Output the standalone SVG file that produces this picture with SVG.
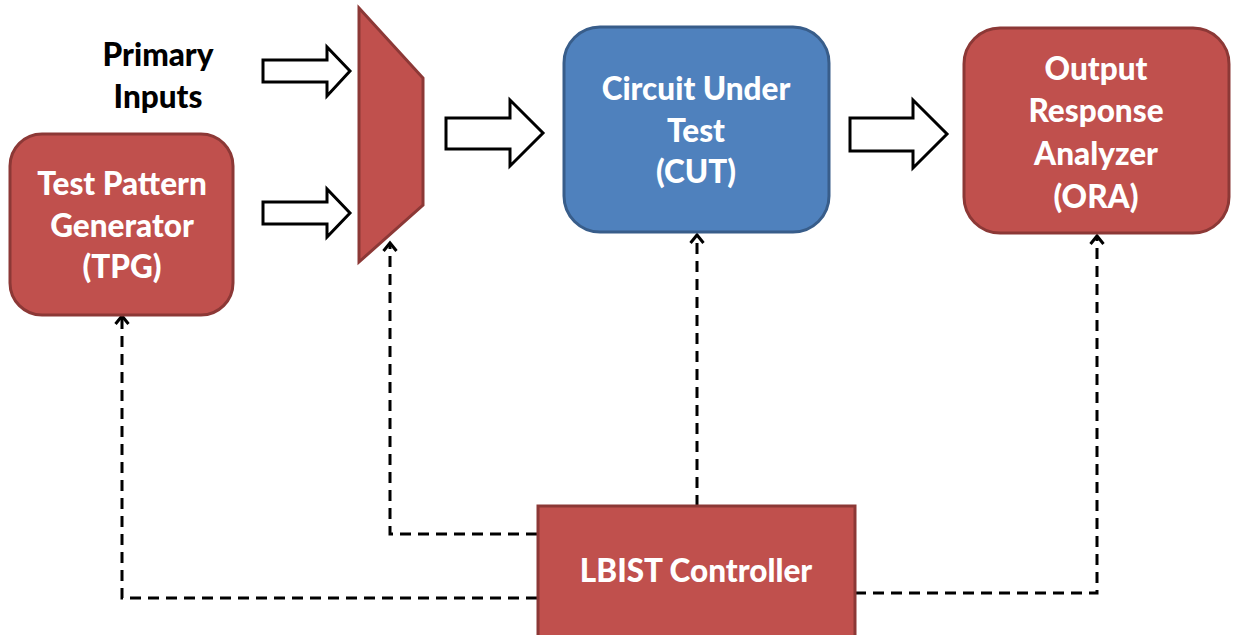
<svg xmlns="http://www.w3.org/2000/svg" width="1233" height="635" viewBox="0 0 1233 635">
  <defs>
    <style>
      .red { fill: #C0504D; stroke: #8C3836; stroke-width: 3; }
      .blue { fill: #4F81BD; stroke: #385D8A; stroke-width: 3; }
      .lbl { font-family: Lato, "Liberation Sans", sans-serif; font-weight: 900; font-size: 31.5px; fill: #FFFFFF; text-anchor: middle; }
      .blk { fill: #000000; }
      .bus { fill: #FFFFFF; stroke: #000000; stroke-width: 3; stroke-linejoin: miter; }
      .ctl { fill: none; stroke: #000000; stroke-width: 3; stroke-dasharray: 11 7; }
    </style>
    <marker id="open" viewBox="0 0 16 16" refX="13" refY="8" markerWidth="16" markerHeight="16" markerUnits="userSpaceOnUse" orient="auto">
      <polyline points="5,1.5 13,8 5,14.5" fill="none" stroke="#000000" stroke-width="3"/>
    </marker>
  </defs>
  <rect width="1233" height="635" fill="#FFFFFF"/>

  <!-- wide data-path arrows -->
  <g id="buses">
    <polygon class="bus" points="263,60 327,60 327,47 350,71 327,96 327,82 263,82"/>
    <polygon class="bus" points="263,202 327,202 327,189 350,213 327,237 327,224 263,224"/>
    <polygon class="bus" points="446,118 510,118 510,100 543,133 510,166 510,149 446,149"/>
    <polygon class="bus" points="850,118 913,118 913,100 947,134 913,168 913,151 850,151"/>
  </g>

  <!-- dashed control lines from the controller -->
  <g id="connectors">
    <path class="ctl" d="M697,506 L697,235" marker-end="url(#open)"/>
    <path class="ctl" d="M537,534 L390,534 L390,243" marker-end="url(#open)"/>
    <path class="ctl" d="M537,598 L122,598 L122,316" marker-end="url(#open)"/>
    <path class="ctl" d="M855,593 L1097,593 L1097,236" marker-end="url(#open)"/>
  </g>

  <g id="primary-inputs">
    <text class="lbl blk" x="158" y="66">Primary</text>
    <text class="lbl blk" x="158" y="108">Inputs</text>
  </g>

  <g id="tpg">
    <rect class="red" x="10" y="134" width="223" height="181" rx="32"/>
    <text class="lbl" x="122" y="195">Test Pattern</text>
    <text class="lbl" x="122" y="237">Generator</text>
    <text class="lbl" x="122" y="278">(TPG)</text>
  </g>

  <g id="mux">
    <polygon class="red" points="359,8 423,78 423,205 359,262"/>
  </g>

  <g id="cut">
    <rect class="blue" x="564" y="27" width="265" height="205" rx="36"/>
    <text class="lbl" x="696" y="100">Circuit Under</text>
    <text class="lbl" x="696" y="142">Test</text>
    <text class="lbl" x="696" y="183">(CUT)</text>
  </g>

  <g id="ora">
    <rect class="red" x="964" y="28" width="265" height="205" rx="36"/>
    <text class="lbl" x="1096" y="80">Output</text>
    <text class="lbl" x="1096" y="122">Response</text>
    <text class="lbl" x="1096" y="165">Analyzer</text>
    <text class="lbl" x="1096" y="208">(ORA)</text>
  </g>

  <g id="lbist-controller">
    <rect class="red" x="538" y="506" width="317" height="135"/>
    <text class="lbl" x="696" y="582">LBIST Controller</text>
  </g>
</svg>
